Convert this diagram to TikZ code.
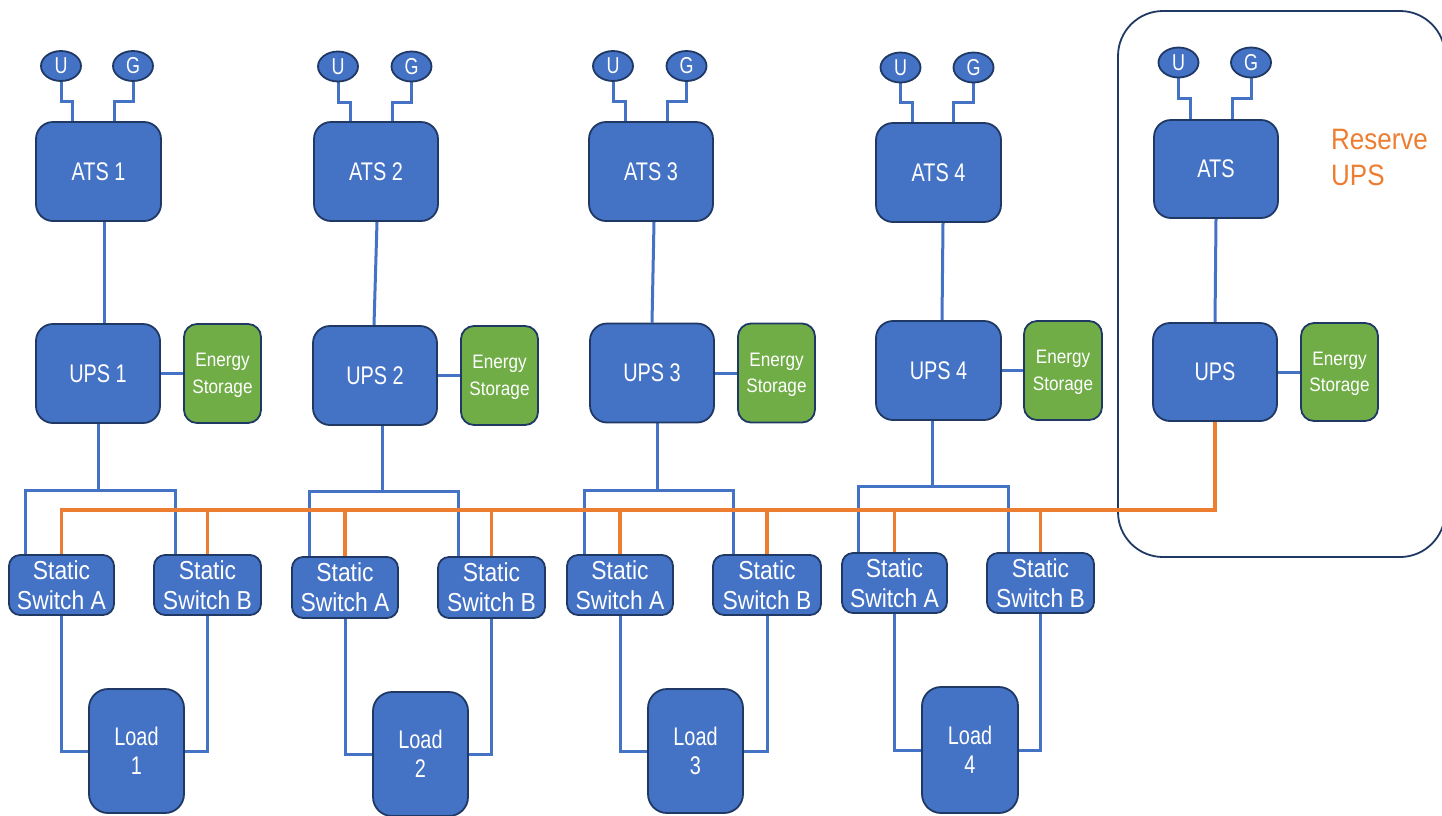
\documentclass[tikz,border=0pt]{standalone}
\usepackage{fontspec}
\setmainfont{Liberation Sans}
\newfontfamily\fA{Liberation Sans}[FakeStretch=0.78]
\newfontfamily\fB{Liberation Sans}[FakeStretch=0.88]
\usetikzlibrary{shapes.geometric}
\definecolor{boxblue}{HTML}{4472C4}
\definecolor{navy}{HTML}{1F3864}
\definecolor{esgreen}{HTML}{70AD47}
\definecolor{resorange}{HTML}{ED7D31}
\pgfdeclarelayer{bg}
\pgfsetlayers{bg,main}
\tikzset{
 box/.style={draw=navy, line width=1.8pt, fill=boxblue, text=white, inner sep=0pt, align=center},
 atsbox/.style={box, rounded corners=17pt, minimum width=124pt, minimum height=99pt, font=\fA\fontsize{25.5}{29}\selectfont},
 esbox/.style={box, fill=esgreen, rounded corners=13pt, minimum width=77pt, minimum height=99pt, text depth=0pt, font=\fB\fontsize{19.5}{26.5}\selectfont},
 ssbox/.style={box, rounded corners=11pt, minimum width=106pt, minimum height=60pt, font=\fB\fontsize{26}{30}\selectfont},
 loadbox/.style={box, rounded corners=19pt, minimum width=95pt, minimum height=124pt, font=\fA\fontsize{25.5}{29.3}\selectfont},
 src/.style={ellipse, draw=navy, line width=1.8pt, fill=boxblue, text=white, inner sep=0pt, minimum width=40pt, minimum height=30pt, font=\fA\fontsize{23}{23}\selectfont},
 wire/.style={draw=boxblue, line width=3pt},
 obus/.style={draw=resorange, line width=3.5pt},
 resframe/.style={draw=navy, line width=1.8pt, rounded corners=45pt},
 restext/.style={text=resorange, inner sep=0pt, align=left, font=\fB\fontsize{29.5}{36}\selectfont},
}
\begin{document}
\begin{tikzpicture}[x=1pt,y=-1pt]
\useasboundingbox (0,0) rectangle (1442,815);
% ---------- group 1
\node[src] (U1) at (61,66) {U};
\node[src] (G1) at (133,66) {G};
\node[atsbox, minimum width=125pt] (ATS1) at (98.5,171.5) {ATS 1};
\node[atsbox] (UPS1) at (98,373.5) {UPS 1};
\node[esbox] (ES1) at (222.5,373.5) {Energy\\Storage};
\node[ssbox, minimum width=105pt] (SSA1) at (61.5,585) {Static\\Switch A};
\node[ssbox, minimum width=107pt] (SSB1) at (207.5,585) {Static\\Switch B};
\node[loadbox] (L1) at (136.5,751) {Load\\1};
\coordinate (J1) at (98,490);
% ---------- group 2
\node[src] (U2) at (338,66.5) {U};
\node[src] (G2) at (411.5,66.5) {G};
\node[atsbox] (ATS2) at (376,171.5) {ATS 2};
\node[atsbox] (UPS2) at (375,375.5) {UPS 2};
\node[esbox] (ES2) at (499.5,375.5) {Energy\\Storage};
\node[ssbox, minimum height=61pt] (SSA2) at (345,587.5) {Static\\Switch A};
\node[ssbox, minimum width=107pt, minimum height=61pt] (SSB2) at (491.5,587.5) {Static\\Switch B};
\node[loadbox] (L2) at (420.5,754) {Load\\2};
\coordinate (J2) at (382,491);
% ---------- group 3
\node[src] (U3) at (613,66) {U};
\node[src] (G3) at (686.5,66) {G};
\node[atsbox] (ATS3) at (651,171.5) {ATS 3};
\node[atsbox] (UPS3) at (652,373) {UPS 3};
\node[esbox] (ES3) at (776.5,373) {Energy\\Storage};
\node[ssbox] (SSA3) at (620,585) {Static\\Switch A};
\node[ssbox, minimum width=108pt] (SSB3) at (767,585) {Static\\Switch B};
\node[loadbox] (L3) at (695.5,751) {Load\\3};
\coordinate (J3) at (657,490);
% ---------- group 4
\node[src] (U4) at (900.5,67.5) {U};
\node[src] (G4) at (973.5,67.5) {G};
\node[atsbox, minimum width=125pt] (ATS4) at (938.5,172.5) {ATS 4};
\node[atsbox, minimum width=125pt] (UPS4) at (938.5,370.5) {UPS 4};
\node[esbox, minimum width=78pt] (ES4) at (1063,370.5) {Energy\\Storage};
\node[ssbox, minimum width=105pt] (SSA4) at (894.5,583) {Static\\Switch A};
\node[ssbox, minimum width=107pt] (SSB4) at (1040.5,583) {Static\\Switch B};
\node[loadbox, minimum width=96pt, minimum height=126pt] (L4) at (970,750) {Load\\4};
\coordinate (J4) at (932,486);
% ---------- reserve
\node[src] (RU) at (1178.5,62.5) {U};
\node[src] (RG) at (1251,62.5) {G};
\node[atsbox, minimum height=98pt] (RATS) at (1216,169) {ATS};
\node[atsbox, minimum height=98pt] (RUPS) at (1215,372) {UPS};
\node[esbox, minimum height=98pt] (RES) at (1339.5,372) {Energy\\Storage};
\node[restext, anchor=west] (RT) at (1331,157.5) {Reserve\\UPS};
\coordinate (OB) at (0,510);
% ---------- connectors
\begin{pgfonlayer}{bg}
\draw[resframe] (1118,11) rectangle (1445,557);
% group 1
\draw[wire] (U1.south) -- ++(0,20) -| ([xshift=-26.5pt]ATS1.north);
\draw[wire] (G1.south) -- ++(0,20) -| ([xshift=15.5pt]ATS1.north);
\draw[wire] ([xshift=5.5pt]ATS1.south) -- ([xshift=6pt]UPS1.north);
\draw[wire] (UPS1.east) -- (ES1.west);
\draw[wire] (UPS1.south) -- (J1);
\draw[wire] ([xshift=-36.5pt]SSA1.north) |- (J1) -| ([xshift=-32.5pt]SSB1.north);
\draw[wire] (SSA1.south) |- (L1.west);
\draw[wire] (SSB1.south) |- (L1.east);
% group 2
\draw[wire] (U2.south) -- ++(0,20.5) -| ([xshift=-26pt]ATS2.north);
\draw[wire] (G2.south) -- ++(0,20.5) -| ([xshift=16pt]ATS2.north);
\draw[wire] ([xshift=1pt]ATS2.south) -- ([xshift=-1pt]UPS2.north);
\draw[wire] (UPS2.east) -- (ES2.west);
\draw[wire] ([xshift=7pt]UPS2.south) -- (J2);
\draw[wire] ([xshift=-36pt]SSA2.north) |- (J2) -| ([xshift=-33.5pt]SSB2.north);
\draw[wire] (SSA2.south) |- (L2.west);
\draw[wire] (SSB2.south) |- (L2.east);
% group 3
\draw[wire] (U3.south) -- ++(0,20) -| ([xshift=-26pt]ATS3.north);
\draw[wire] (G3.south) -- ++(0,20) -| ([xshift=16pt]ATS3.north);
\draw[wire] ([xshift=3pt]ATS3.south) -- (UPS3.north);
\draw[wire] (UPS3.east) -- (ES3.west);
\draw[wire] ([xshift=5pt]UPS3.south) -- (J3);
\draw[wire] ([xshift=-36pt]SSA3.north) |- (J3) -| ([xshift=-34pt]SSB3.north);
\draw[wire] (SSA3.south) |- (L3.west);
\draw[wire] (SSB3.south) |- (L3.east);
% group 4
\draw[wire] (U4.south) -- ++(0,19.5) -| ([xshift=-26.5pt]ATS4.north);
\draw[wire] (G4.south) -- ++(0,19.5) -| ([xshift=14.5pt]ATS4.north);
\draw[wire] ([xshift=4.5pt]ATS4.south) -- ([xshift=3.5pt]UPS4.north);
\draw[wire] (UPS4.east) -- (ES4.west);
\draw[wire] ([xshift=-6.5pt]UPS4.south) -- (J4);
\draw[wire] ([xshift=-36.5pt]SSA4.north) |- (J4) -| ([xshift=-32.5pt]SSB4.north);
\draw[wire] (SSA4.south) |- (L4.west);
\draw[wire] (SSB4.south) |- (L4.east);
% reserve
\draw[wire] (RU.south) -- ++(0,20.5) -| ([xshift=-26pt]RATS.north);
\draw[wire] (RG.south) -- ++(0,20.5) -| ([xshift=16pt]RATS.north);
\draw[wire] (RATS.south) -- (RUPS.north);
\draw[wire] (RUPS.east) -- (RES.west);
% orange reserve bus
\draw[obus] (SSA1.north) -- (SSA1.north |- OB) -| (RUPS.south);
\foreach \n in {SSB1,SSA2,SSB2,SSA3,SSB3,SSA4,SSB4}
  \draw[obus] (\n.north) -- (\n.north |- OB);
\end{pgfonlayer}
\end{tikzpicture}
\end{document}
